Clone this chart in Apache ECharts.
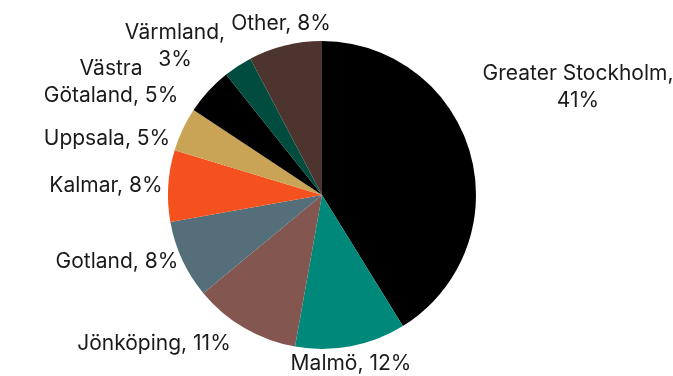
<!DOCTYPE html>
<html>
<head>
<meta charset="utf-8">
<script src="https://cdn.jsdelivr.net/npm/echarts@6/dist/echarts.min.js"></script>
<style>
  html, body { margin: 0; padding: 0; background: #ffffff; }
  #chart { width: 673px; height: 376px; }
</style>
</head>
<body>
<div id="chart"></div>
<script>
// Share of visitors by region (percent), clockwise from 12 o'clock
const regions = ['Greater Stockholm', 'Malmö', 'Jönköping', 'Gotland', 'Kalmar', 'Uppsala', 'Västra Götaland', 'Värmland', 'Other'];
const shares = [41.2, 11.6, 11.2, 8.2, 7.5, 4.6, 5.0, 3.0, 7.7];
const sliceColors = ['#000000', '#00897b', '#845650', '#546e7a', '#f4511e', '#c9a456', '#000000', '#004d40', '#4e342e'];

// Label text: some names wrap onto two lines
const labelText = {
  'Greater Stockholm': (p) => 'Greater Stockholm,\n' + p,
  'Västra Götaland': (p) => 'Västra\nGötaland, ' + p,
  'Värmland': (p) => 'Värmland,\n' + p
};

// Label centre points around the pie
const labelSpots = [
  [578, 87], [351, 364], [154, 344], [117, 262], [106, 186],
  [107, 139], [111, 82], [175, 46], [281, 24]
];

const chart = echarts.init(document.getElementById('chart'), null, { renderer: 'canvas' });

chart.setOption({
  animation: false,
  backgroundColor: '#ffffff',
  series: [{
    type: 'pie',
    center: [322, 195],
    radius: [0, 154],
    startAngle: 90,
    clockwise: true,
    silent: true,
    data: regions.map((name, i) => ({
      name: name,
      value: shares[i],
      itemStyle: { color: sliceColors[i] }
    })),
    itemStyle: { borderWidth: 0 },
    label: {
      show: true,
      position: 'outside',
      fontFamily: 'Inter',
      fontSize: 21,
      lineHeight: 27,
      color: '#1a1a1a',
      align: 'center',
      overflow: 'none',
      width: 400,
      formatter: (params) => {
        const pct = Math.round(params.value) + '%';
        const f = labelText[params.name];
        return f ? f(pct) : params.name + ', ' + pct;
      }
    },
    labelLine: { show: false },
    labelLayout: (params) => {
      const spot = labelSpots[params.dataIndex];
      return { x: spot[0], y: spot[1], align: 'center', verticalAlign: 'middle' };
    }
  }]
});
</script>
</body>
</html>
